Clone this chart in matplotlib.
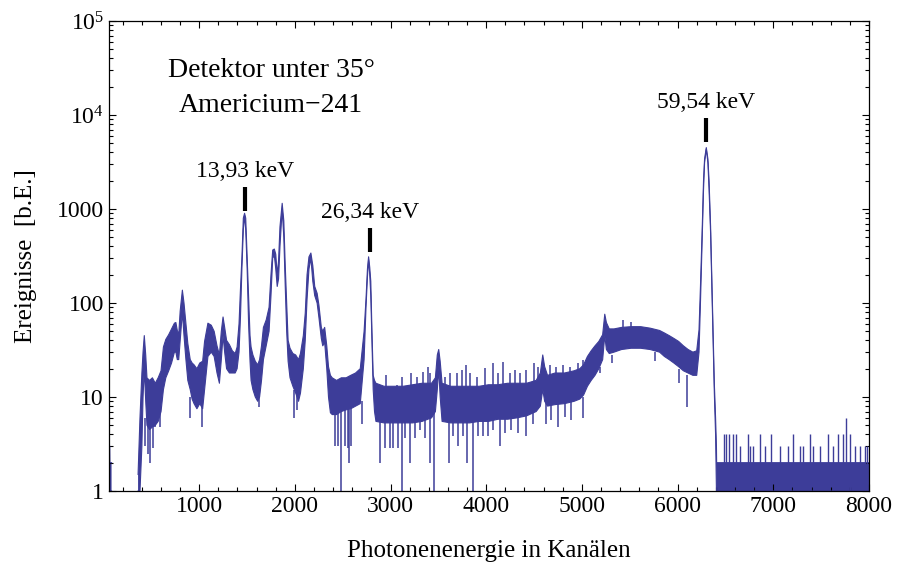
import numpy as np
import matplotlib
matplotlib.use("Agg")
import matplotlib.pyplot as plt
from matplotlib.ticker import FixedLocator, MultipleLocator, LogLocator, NullFormatter

plt.rcParams['font.family'] = ['Liberation Serif', 'DejaVu Serif']
plt.rcParams['mathtext.fontset'] = 'custom'
plt.rcParams['mathtext.rm'] = 'Liberation Serif'

nan = np.nan

# Am-241 Spektrum: Kanal, untere und obere Kante des dichten Bandes
kanal = [55, 66, 68, 85, 88, 355,
         362, 382, 402, 414, 427, 442, 455, 482, 512, 542, 572, 602, 627, 652,
         682, 712, 742, 757, 772, 787, 802, 825, 842, 862, 882, 907, 927, 947,
         977, 1007, 1037, 1057, 1092, 1127, 1157, 1187, 1212, 1232, 1250, 1267,
         1287, 1317, 1347, 1377, 1397, 1417, 1432, 1447, 1462, 1475, 1487, 1502,
         1517, 1532, 1543, 1562, 1587, 1612, 1632, 1652, 1672, 1701, 1731, 1751,
         1769, 1786, 1801, 1816, 1830, 1845, 1868, 1885, 1900, 1915, 1930, 1950,
         1980, 2009, 2039, 2059, 2089, 2109, 2128, 2148, 2168, 2188, 2208, 2233,
         2252, 2277, 2292, 2312, 2334, 2352, 2372, 2391, 2436, 2486, 2536, 2585,
         2635, 2684, 2724, 2744, 2759, 2771, 2783, 2794, 2806, 2819, 2833, 2848,
         2933, 3032, 3131, 3231, 3330, 3429, 3469, 3489, 3504, 3519, 3539, 3628,
         3727, 3826, 3926, 4025, 4124, 4224, 4323, 4422, 4522, 4566, 4591, 4611,
         4641, 4720, 4819, 4919, 4978, 5018, 5058, 5097, 5137, 5177, 5217, 5239,
         5256, 5286, 5336, 5415, 5515, 5614, 5713, 5812, 5862, 5912, 5961, 6011,
         6061, 6110, 6160, 6200, 6224, 6239, 6258, 6271, 6282, 6300, 6317, 6329,
         6345, 6359, 6373, 6384, 6397, 6406, 6408, 8000]
unten = [1, 1, 1, 1, nan, nan,
         1, 1, 3, 10, 20, 9, 5, 4.5, 4.8, 5, 5.5, 7, 12, 16,
         19, 23, 30, 30, 25, 25, 40, 80, 45, 25, 15, 12, 9.5, 8.5,
         7.5, 8.5, 7.5, 12, 27, 30, 27, 18, 14, 25, 45, 30,
         20, 18, 18, 18, 20, 30, 70, 230, 600, 850, 600, 230,
         60, 24, 15, 12, 10, 9, 10, 15, 25, 35, 50, 120,
         300, 320, 230, 150, 180, 400, 1000, 500, 150, 50, 24, 16,
         13, 11, 9, 11, 20, 40, 110, 230, 300, 170, 120, 100,
         70, 42, 35, 38, 20, 10, 6.8, 6.5, 6.5, 7, 7.3, 7.5,
         8, 8.5, 25, 90, 190, 290, 200, 120, 40, 12, 7, 5.5,
         5.3, 5.3, 5.3, 5.3, 5.5, 6, 7, 12, 20, 10, 5.5, 5.3,
         5.3, 5.3, 5.5, 5.5, 5.8, 5.8, 6, 6.3, 7, 8, 12, 9,
         8, 8.3, 8.5, 9, 9.5, 10.5, 13, 15, 17, 20, 25, 45,
         32, 29, 30, 32, 33, 33, 32, 30, 27, 25, 23, 21,
         19, 18, 17, 17, 30, 100, 550, 1600, 3100, 4350, 3100, 1600,
         550, 130, 30, 11, 4, 1, 1, 1]
oben = [3, 3, 2, 2, nan, nan,
        1.5, 6, 18, 30, 45, 28, 16, 15, 16, 14, 16, 19, 34, 41,
        46, 53, 61, 62, 51, 46, 82, 137, 100, 60, 37, 25, 23, 22,
        20, 23, 24, 39, 61, 58, 50, 35, 28, 50, 71, 55,
        40, 36, 31, 29, 34, 60, 140, 300, 800, 900, 800, 300,
        110, 45, 34, 28, 24, 22, 25, 35, 55, 66, 90, 200,
        366, 375, 330, 200, 280, 650, 1150, 750, 250, 100, 40, 33,
        29, 28, 25, 29, 45, 78, 200, 310, 340, 250, 150, 127,
        95, 55, 50, 55, 35, 21, 17, 16, 15, 16, 16, 17,
        18, 20, 50, 110, 230, 310, 240, 170, 51, 17, 15, 14,
        13, 13, 13, 13.5, 14, 14, 16, 28, 32, 24, 14, 13,
        13, 13, 13, 13.5, 13.5, 14, 14, 14, 15, 18, 28, 21,
        17, 18, 18, 19, 20, 22, 27, 31, 35, 39, 46, 76,
        62, 53, 53, 55, 56, 56, 54, 51, 48, 45, 42, 39,
        35, 32, 30, 31, 52, 150, 650, 2000, 3400, 4500, 3400, 2000,
        650, 160, 38, 14, 6, 3, 2, 2]

# einzelne Ausreisser nach unten und oben (Kanal, von, bis)
spitze_kanal = [430, 462, 485, 516, 540, 589, 900, 1035, 1623, 1990, 2020,
                2418, 2453, 2481, 2523, 2553, 2565, 2592, 2697,
                2888, 2941, 2993, 3028, 3080, 3115, 3150, 3202, 3254, 3306, 3359, 3411, 3453,
                2871, 2958, 3063, 3115, 3219, 3272, 3341, 3390, 3411,
                3613, 3655, 3707, 3759, 3801, 3864, 3916, 3968, 4020, 4073, 4142, 4195,
                4264, 4334, 4421, 4491,
                3568, 3620, 3690, 3742, 3787, 3829, 3899, 3986, 4073, 4125, 4177, 4247,
                4299, 4351, 4421, 4498, 4543,
                4630, 4682, 4752, 4822, 4891, 5013,
                4665, 4734, 4804, 4874, 4961, 5013,
                5187, 5312, 5425, 5515, 5760, 6011, 6097]
spitze_von = [3, 2.5, 2, 2.9, 4.8, 4.8, 6, 4.8, 7.8, 6, 7.3,
              3, 3, 1, 3, 2.9, 2, 3, 5.2,
              2, 2.9, 2.9, 2.9, 2.9, 1, 3.7, 2, 3.7, 4.5, 3.7, 2, 1,
              12, 12, 12, 12, 12, 12, 13, 13, 13,
              2, 3.8, 3, 3.8, 2, 1, 3.8, 3.8, 3.8, 4.5, 3, 4.1,
              4.5, 4.1, 3.8, 5.2,
              12, 12, 12, 12, 12, 12, 12, 12, 12, 12, 12, 13,
              13, 13, 13, 13, 14,
              5.2, 5.7, 4.8, 6.2, 5.7, 6,
              17, 17, 17, 18, 19, 20,
              18, 23, 52, 52, 24, 14, 7.8]
spitze_bis = [6, 6, 6, 6, 7, 8, 10, 9, 12, 12, 13,
              7, 7, 7, 7.5, 7.5, 7.5, 8, 9,
              6, 6, 6, 6, 6, 6, 6, 6, 6, 6, 6, 6.5, 7,
              13.4, 17, 13.4, 16.4, 18, 16.4, 18.5, 21, 18,
              6, 6, 6, 6, 6, 6, 6, 6, 6.2, 6.2, 6.2, 6.5,
              6.5, 6.5, 7, 8,
              16.5, 17.9, 17.9, 19.4, 21.9, 17.9, 16.5, 20.2, 22.8, 17.9, 23.8, 17.9,
              19.4, 17.9, 19.4, 22.8, 21,
              9, 9, 9, 9.5, 9.5, 10,
              22, 21, 22, 21, 23, 25,
              21, 28, 66, 63, 30, 20, 17]

# Untergrund oberhalb der 59,54 keV Linie (0 bis 6 Ereignisse)
rest_kanal = [6486, 6510, 6534, 6580, 6615, 6650, 6736, 6761, 6789, 6858, 6911,
              6980, 7068, 7155, 7207, 7277, 7312, 7381, 7416, 7486, 7572, 7624,
              7676, 7729, 7764, 7798, 7851, 7903, 7955, 7980]
rest_oben = [4, 4, 4, 4, 4, 3, 4, 3, 3, 4, 3,
             4, 3, 3, 4, 3, 3, 4, 3, 3, 4, 3,
             4, 4, 6, 4, 3, 3, 3, 3]

# markierte Linien
linie_kanal = [1475, 2783, 6300]
linie_text = ['13,93 keV', '26,34 keV', '59,54 keV']
strich_unten = [960, 350, 5140]
strich_oben = [1700, 630, 9300]
text_y = [2200, 810, 11800]

farbe = '#3d3d99'

fig = plt.figure(figsize=(8.99, 5.69), dpi=100)
ax = fig.add_axes([0.1209, 0.1371, 0.8457, 0.8260])

ax.fill_between(kanal, unten, oben, color=farbe, lw=0)
ax.plot(kanal, oben, color=farbe, lw=0.8)
ax.plot(kanal, unten, color=farbe, lw=0.8)
ax.vlines(spitze_kanal, spitze_von, spitze_bis, color=farbe, lw=1.1)
ax.vlines(rest_kanal, 1, rest_oben, color=farbe, lw=1.0)

for k, t, s0, s1, ty in zip(linie_kanal, linie_text, strich_unten, strich_oben, text_y):
    ax.vlines(k, s0, s1, color='black', lw=3)
    ax.text(k, ty, t, ha='center', va='baseline', fontsize=17)

ax.text(0.2135, 0.881, 'Detektor unter 35°', transform=ax.transAxes,
        ha='center', va='baseline', fontsize=20)
ax.text(0.2135, 0.807, 'Americium\u2212241', transform=ax.transAxes,
        ha='center', va='baseline', fontsize=20)

ax.set_yscale('log')
ax.set_xlim(55, 8000)
ax.set_ylim(1, 1e5)

ax.xaxis.set_major_locator(FixedLocator([1000, 2000, 3000, 4000, 5000, 6000, 7000, 8000]))
ax.xaxis.set_minor_locator(MultipleLocator(200))
ax.set_yticks([1, 10, 100, 1000, 1e4, 1e5])
ax.set_yticklabels(['1', '10', '100', '1000', r'$\mathregular{10^4}$', r'$\mathregular{10^5}$'])
ax.yaxis.set_minor_locator(LogLocator(base=10, subs=np.arange(2, 10)))
ax.yaxis.set_minor_formatter(NullFormatter())

ax.tick_params(which='both', direction='in', top=True, right=True, width=0.8, labelsize=17)
ax.tick_params(which='major', length=5)
ax.tick_params(which='minor', length=3)
for sp in ax.spines.values():
    sp.set_linewidth(0.9)

ax.set_xlabel('Photonenenergie in Kanälen', fontsize=18, labelpad=17)
ax.set_ylabel('Ereignisse  [b.E.]', fontsize=18, labelpad=14)

fig.savefig('out.png', dpi=100)
